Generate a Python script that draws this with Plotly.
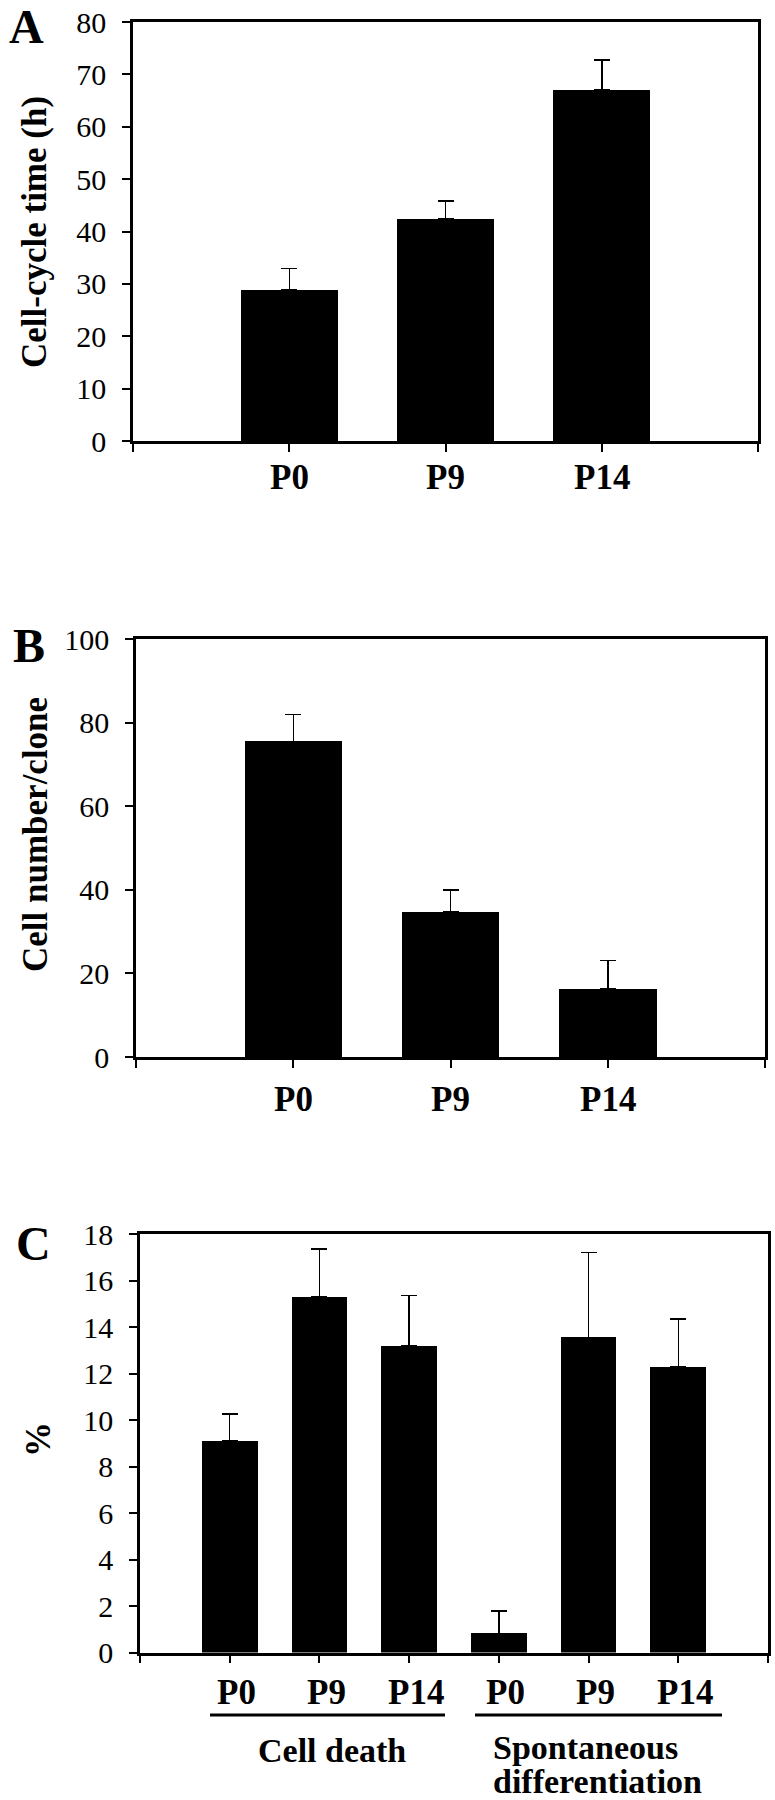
import plotly.graph_objects as go

W, H = 775, 1800

# ---------------- data ----------------
a_categories = ["P0", "P9", "P14"]
a_cycle_time = [28.8, 42.4, 67.1]
a_cycle_err = [4.1, 3.4, 5.6]

b_categories = ["P0", "P9", "P14"]
b_cell_number = [75.5, 34.7, 16.3]
b_cell_err = [6.4, 5.3, 6.8]

c_categories = ["P0", "P9", "P14", "P0", "P9", "P14"]
c_percent = [9.1, 15.3, 13.2, 0.82, 13.55, 12.3]
c_percent_err = [1.15, 2.05, 2.15, 0.96, 3.65, 2.05]
c_groups = ["Cell death", "Spontaneous differentiation"]

a_ytitle = "Cell-cycle time (h)"
b_ytitle = "Cell number/clone"
c_ytitle = "%"
panel_letters = ["A", "B", "C"]

# ---------------- helpers ----------------
def fx(px):
    return px / W


def fy(py):
    return 1 - py / H


SERIF = "Liberation Serif"
tick_font = dict(family=SERIF, size=30, color="black")
cat_font = dict(family=SERIF, size=35, color="black", weight="bold")
grp_font = dict(family=SERIF, size=34, color="black", weight="bold")

fig = go.Figure()


def add_bars(values, errs, xa, ya):
    xs = list(range(1, len(values) + 1))
    fig.add_trace(go.Bar(
        x=xs, y=values, width=0.62,
        marker=dict(color="black", line=dict(width=0)),
        error_y=dict(type="data", symmetric=False, array=errs,
                     arrayminus=[0] * len(errs), color="black",
                     thickness=1.5, width=8),
        xaxis=xa, yaxis=ya, showlegend=False, hoverinfo="skip",
    ))


add_bars(a_cycle_time, a_cycle_err, "x", "y")
add_bars(b_cell_number, b_cell_err, "x2", "y2")
add_bars(c_percent, c_percent_err, "x3", "y3")

axis_common = dict(showline=True, linecolor="black", linewidth=2.5, mirror=True,
                   ticks="outside", ticklen=8, tickwidth=2, tickcolor="black",
                   showgrid=False, zeroline=False, fixedrange=True, automargin=False)


def xaxis(n, x0, x1, anchor):
    return dict(axis_common, domain=[fx(x0), fx(x1)], anchor=anchor,
                range=[0, n], tickmode="linear", tick0=0, dtick=1,
                showticklabels=False)


def yaxis(y0, y1, anchor, rng, dtick):
    return dict(axis_common, domain=[fy(y1), fy(y0)], anchor=anchor,
                range=rng, tickmode="linear", tick0=0, dtick=dtick,
                tickfont=tick_font, ticklabelstandoff=10)


fig.update_layout(
    width=W, height=H,
    margin=dict(l=0, r=0, t=0, b=0, pad=0, autoexpand=False),
    paper_bgcolor="white", plot_bgcolor="white",
    bargap=0,
    xaxis=xaxis(4, 133, 758, "y"),
    yaxis=yaxis(22, 441, "x", [0, 80], 10),
    xaxis2=xaxis(4, 136, 765, "y2"),
    yaxis2=yaxis(639, 1057, "x2", [0, 100], 20),
    xaxis3=xaxis(7, 140, 768, "y3"),
    yaxis3=yaxis(1234, 1652.5, "x3", [0, 18], 2),
)

ann = []
# category labels under each bar (positioned on the data x axis)
for cats, xref, ypx, shift in [(a_categories, "x", 477.5, 0),
                               (b_categories, "x2", 1099, 0),
                               (c_categories, "x3", 1692.5, 7)]:
    for i, cat in enumerate(cats):
        ann.append(dict(text=cat, x=i + 1, xref=xref, y=fy(ypx), yref="paper",
                        xshift=shift, showarrow=False, xanchor="center",
                        yanchor="middle", font=cat_font))
# panel letters
for letter, (cx, cy) in zip(panel_letters, [(27, 26), (29, 646), (33, 1243)]):
    ann.append(dict(text=letter, x=fx(cx), y=fy(cy), xref="paper", yref="paper",
                    showarrow=False, xanchor="center", yanchor="middle",
                    font=dict(family=SERIF, size=48, color="black", weight="bold")))
# y titles
for title, (cx, cy) in zip([a_ytitle, b_ytitle, c_ytitle], [(35, 232), (35, 835), (38, 1440)]):
    ann.append(dict(text=title, x=fx(cx), y=fy(cy), xref="paper", yref="paper",
                    showarrow=False, xanchor="center", yanchor="middle", textangle=-90,
                    font=dict(family=SERIF, size=35, color="black", weight="bold")))
# group labels in panel C
ann.append(dict(text=c_groups[0], x=fx(332), y=fy(1750), xref="paper", yref="paper",
                showarrow=False, xanchor="center", yanchor="middle", font=grp_font))
for line, ypx in zip(c_groups[1].split(" "), [1747, 1781]):
    ann.append(dict(text=line, x=fx(491), y=fy(ypx), xref="paper", yref="paper",
                    showarrow=False, xanchor="left", yanchor="middle", font=grp_font))
fig.update_layout(annotations=ann)

# group underlines
for x0, x1 in [(210, 445), (475, 722)]:
    fig.add_shape(type="line", xref="paper", yref="paper",
                  x0=fx(x0), x1=fx(x1), y0=fy(1715), y1=fy(1715),
                  line=dict(color="black", width=3))

fig.write_html("out.html", config={"displayModeBar": False},
               post_script="document.body.style.margin='0';")
